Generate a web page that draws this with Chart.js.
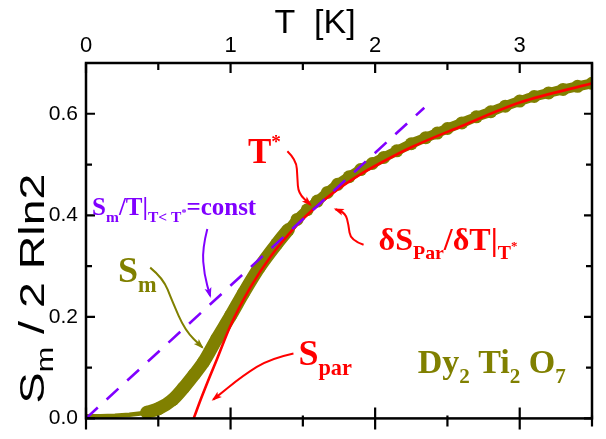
<!DOCTYPE html>
<html>
<head>
<meta charset="utf-8">
<script src="https://cdn.jsdelivr.net/npm/chart.js@4.4.1/dist/chart.umd.min.js"></script>
<style>
  html, body { margin: 0; padding: 0; background: #fff; }
  #wrap { width: 606px; height: 439px; }
</style>
</head>
<body>
<div id="wrap"><canvas id="entropyChart" width="606" height="439"></canvas></div>
<script>
// values (T in K, S in units of 2 R ln2)
const tempThin = [0, 0.1, 0.2, 0.3, 0.42];
const smThin   = [0.004, 0.004, 0.005, 0.007, 0.011];

const tempSm = [0.42, 0.5, 0.6, 0.674, 0.75, 0.813, 0.905, 1.0, 1.09, 1.2, 1.32, 1.4, 1.46, 1.53, 1.6,
                1.67, 1.74, 1.82, 1.9, 1.98, 2.06, 2.15, 2.25, 2.35, 2.43, 2.5, 2.6, 2.7, 2.8, 2.9,
                3.0, 3.1, 3.2, 3.3, 3.4, 3.5];
const sm     = [0.012, 0.019, 0.037, 0.060, 0.087, 0.111, 0.157, 0.202, 0.247, 0.298, 0.344, 0.372, 0.392, 0.411, 0.428,
                0.445, 0.461, 0.476, 0.490, 0.502, 0.514, 0.527, 0.541, 0.553, 0.562, 0.571, 0.582, 0.594, 0.604, 0.615,
                0.625, 0.634, 0.641, 0.648, 0.654, 0.660];

const tempPar = [0.745, 0.8, 0.86, 0.905, 1.0, 1.137, 1.275, 1.46, 1.553, 1.69, 1.9, 2.05, 2.25, 2.6, 3.0, 3.5];
const sPar    = [0.0, 0.042, 0.085, 0.116, 0.183, 0.258, 0.318, 0.381, 0.407, 0.440, 0.481, 0.505, 0.534, 0.576, 0.622, 0.660];

const tempConst = [0, 2.34];
const sConst    = [0, 0.612];

const xTicks = [0, 1, 2, 3];
const xMinor = [0.5, 1.5, 2.5, 3.5];
const yTicks = [0, 0.2, 0.4, 0.6];
const yMinor = [0.1, 0.3, 0.5];

const OLIVE = '#808000';
const RED = '#ff0000';
const PURPLE = '#8000ff';
const SANS = "'Liberation Sans', Arial, sans-serif";
const SERIF = "'Liberation Serif', 'Times New Roman', serif";

// labels and arrows, placed in data coordinates
const notes = [
    { at: [1.12, 0.503], size: 35, color: RED, parts: [['T', ''], ['*', 'sup']] },
    { at: [2.024, 0.332], size: 32, color: RED, parts: [['\u03b4S', ''], ['Par', 'sub'], ['/\u03b4T|', ''], ['T', 'sub'], ['*', 'subsup']] },
    { at: [0.042, 0.400], size: 25, color: PURPLE, parts: [['S', ''], ['m', 'sub'], ['/T|', ''], ['T< T', 'sub'], ['*', 'subsup'], ['=const', '']] },
    { at: [0.222, 0.268], size: 36, color: OLIVE, parts: [['S', ''], ['m', 'sub']] },
    { at: [1.469, 0.105], size: 36, color: RED, parts: [['S', ''], ['par', 'sub']] },
    { at: [2.294, 0.089], size: 34, color: OLIVE, parts: [['Dy', ''], ['2', 'sub'], [' Ti', ''], ['2', 'sub'], [' O', ''], ['7', 'sub']] }
];
const arrows = [
    { color: RED, pts: [[1.393, 0.526], [1.455, 0.509], [1.462, 0.474], [1.469, 0.443], [1.552, 0.421]] },
    { color: RED, pts: [[1.920, 0.342], [1.830, 0.351], [1.816, 0.381], [1.795, 0.404], [1.726, 0.412]] },
    { color: PURPLE, pts: [[0.839, 0.373], [0.804, 0.334], [0.818, 0.283], [0.859, 0.241]] },
    { color: OLIVE, pts: [[0.444, 0.297], [0.534, 0.276], [0.596, 0.231], [0.686, 0.173], [0.804, 0.140]] },
    { color: RED, pts: [[1.435, 0.128], [1.275, 0.118], [1.088, 0.085], [0.880, 0.037]] }
];

const toXY = (xs, ys) => xs.map((x, i) => ({ x: x, y: ys[i] }));

function drawRich(ctx, x, y, parts, size, family, color) {
    ctx.fillStyle = color;
    ctx.textBaseline = 'alphabetic';
    ctx.textAlign = 'left';
    let cx = x;
    parts.forEach(([txt, kind]) => {
        let fs = size, dy = 0;
        if (kind === 'sub') { fs = size * 0.62; dy = size * 0.28; }
        if (kind === 'sup') { fs = size * 0.55; dy = -size * 0.42; }
        if (kind === 'subsup') { fs = size * 0.4; dy = size * 0.02; }
        ctx.font = 'bold ' + fs + 'px ' + family;
        ctx.fillText(txt, cx, y + dy);
        cx += ctx.measureText(txt).width;
    });
}

function drawArrow(ctx, pts, color, head) {
    ctx.save();
    ctx.strokeStyle = color;
    ctx.fillStyle = color;
    ctx.lineWidth = 2;
    ctx.beginPath();
    ctx.moveTo(pts[0][0], pts[0][1]);
    for (let i = 1; i < pts.length - 1; i++) {
        const mx = (pts[i][0] + pts[i + 1][0]) / 2, my = (pts[i][1] + pts[i + 1][1]) / 2;
        ctx.quadraticCurveTo(pts[i][0], pts[i][1], mx, my);
    }
    const last = pts[pts.length - 1], prev = pts[pts.length - 2];
    ctx.lineTo(last[0], last[1]);
    ctx.stroke();
    if (head) {
        const a = Math.atan2(last[1] - prev[1], last[0] - prev[0]);
        ctx.beginPath();
        ctx.moveTo(last[0] + 2 * Math.cos(a), last[1] + 2 * Math.sin(a));
        ctx.lineTo(last[0] - 9 * Math.cos(a - 0.4), last[1] - 9 * Math.sin(a - 0.4));
        ctx.lineTo(last[0] - 6 * Math.cos(a), last[1] - 6 * Math.sin(a));
        ctx.lineTo(last[0] - 9 * Math.cos(a + 0.4), last[1] - 9 * Math.sin(a + 0.4));
        ctx.closePath();
        ctx.fill();
    }
    ctx.restore();
}

const framePlugin = {
    id: 'frame',
    afterDatasetsDraw(chart) {
        const ctx = chart.ctx;
        const a = chart.chartArea;
        const xs = chart.scales.x, ys = chart.scales.y;
        ctx.save();
        ctx.strokeStyle = '#000';
        ctx.lineWidth = 2.5;
        ctx.strokeRect(a.left, a.top, a.right - a.left, a.bottom - a.top);
        ctx.lineWidth = 2.2;
        ctx.beginPath();
        xTicks.forEach(v => {
            const px = xs.getPixelForValue(v);
            ctx.moveTo(px, a.top); ctx.lineTo(px, a.top + 10);
            ctx.moveTo(px, a.bottom - 11); ctx.lineTo(px, a.bottom + 11);
        });
        xMinor.forEach(v => {
            const px = xs.getPixelForValue(v);
            ctx.moveTo(px, a.top); ctx.lineTo(px, a.top + 7);
            ctx.moveTo(px, a.bottom - 3); ctx.lineTo(px, a.bottom + 8);
        });
        yTicks.forEach(v => {
            const py = ys.getPixelForValue(v);
            ctx.moveTo(a.left, py); ctx.lineTo(a.left + 9, py);
            ctx.moveTo(a.right - 8, py); ctx.lineTo(a.right, py);
        });
        yMinor.forEach(v => {
            const py = ys.getPixelForValue(v);
            ctx.moveTo(a.left, py); ctx.lineTo(a.left + 6, py);
            ctx.moveTo(a.right - 6, py); ctx.lineTo(a.right, py);
        });
        ctx.stroke();

        // axis titles
        ctx.fillStyle = '#000';
        ctx.font = '34px ' + SANS;
        ctx.textAlign = 'center';
        ctx.textBaseline = 'alphabetic';
        ctx.fillText('T  [K]', a.left + 229, 33);

        ctx.save();
        ctx.translate(44, a.bottom - 15);
        ctx.rotate(-Math.PI / 2);
        ctx.scale(1.33, 1);
        ctx.fillStyle = '#000';
        ctx.font = '35px ' + SANS;
        ctx.textAlign = 'left';
        let cx = 0;
        ctx.fillText('S', cx, 0); cx += ctx.measureText('S').width;
        ctx.font = '23px ' + SANS;
        ctx.fillText('m', cx, 9); cx += ctx.measureText('m').width;
        ctx.font = '35px ' + SANS;
        ctx.fillText(' / 2 Rln2', cx, 0);
        ctx.restore();

        // annotations
        notes.forEach(n => {
            drawRich(ctx, xs.getPixelForValue(n.at[0]), ys.getPixelForValue(n.at[1]), n.parts, n.size, SERIF, n.color);
        });
        arrows.forEach(ar => {
            const pts = ar.pts.map(p => [xs.getPixelForValue(p[0]), ys.getPixelForValue(p[1])]);
            drawArrow(ctx, pts, ar.color, true);
        });
        ctx.restore();
    }
};

new Chart(document.getElementById('entropyChart'), {
    type: 'scatter',
    data: {
        datasets: [
            {
                label: 'Sm/T = const',
                data: toXY(tempConst, sConst),
                showLine: true,
                borderColor: PURPLE,
                borderWidth: 2.6,
                borderDash: [16, 12],
                pointRadius: 0,
                order: 0
            },
            {
                label: 'S_par',
                data: toXY(tempPar, sPar),
                showLine: true,
                borderColor: RED,
                borderWidth: 2.6,
                pointRadius: 0,
                cubicInterpolationMode: 'monotone',
                order: 1
            },
            {
                label: 'S_m',
                data: toXY(tempSm, sm),
                showLine: true,
                borderColor: OLIVE,
                borderWidth: 13,
                // dense data merge into a band at low T, separate dots show above ~1.4 K
                segment: { borderWidth: c => (c.p0.parsed.x >= 1.38 ? 10 : 13) },
                pointRadius: 6.5,
                pointBorderWidth: 0,
                pointBackgroundColor: OLIVE,
                cubicInterpolationMode: 'monotone',
                order: 2
            },
            {
                label: 'S_m low T',
                data: toXY(tempThin, smThin),
                showLine: true,
                borderColor: OLIVE,
                borderWidth: 4.5,
                pointRadius: 0,
                order: 3
            }
        ]
    },
    options: {
        responsive: false,
        animation: false,
        events: [],
        layout: { padding: { left: 0, top: 0, right: 14, bottom: 15 } },
        plugins: { legend: { display: false }, tooltip: { enabled: false } },
        scales: {
            x: {
                type: 'linear',
                position: 'top',
                min: 0, max: 3.5,
                grid: { display: false, drawTicks: false },
                border: { display: false },
                afterBuildTicks: s => { s.ticks = xTicks.map(v => ({ value: v })); },
                afterFit: s => { s.height = 63; },
                ticks: { color: '#000', padding: 4, font: { family: SANS, size: 22 }, autoSkip: false, maxRotation: 0,
                         callback: v => String(v) }
            },
            y: {
                type: 'linear',
                min: 0, max: 0.7,
                grid: { display: false, drawTicks: false },
                border: { display: false },
                afterBuildTicks: s => { s.ticks = yTicks.map(v => ({ value: v })); },
                afterFit: s => { s.width = 86; },
                ticks: { color: '#000', padding: 8, font: { family: SANS, size: 21 }, autoSkip: false,
                         callback: v => v.toFixed(1) }
            }
        }
    },
    plugins: [framePlugin]
});
</script>
</body>
</html>
